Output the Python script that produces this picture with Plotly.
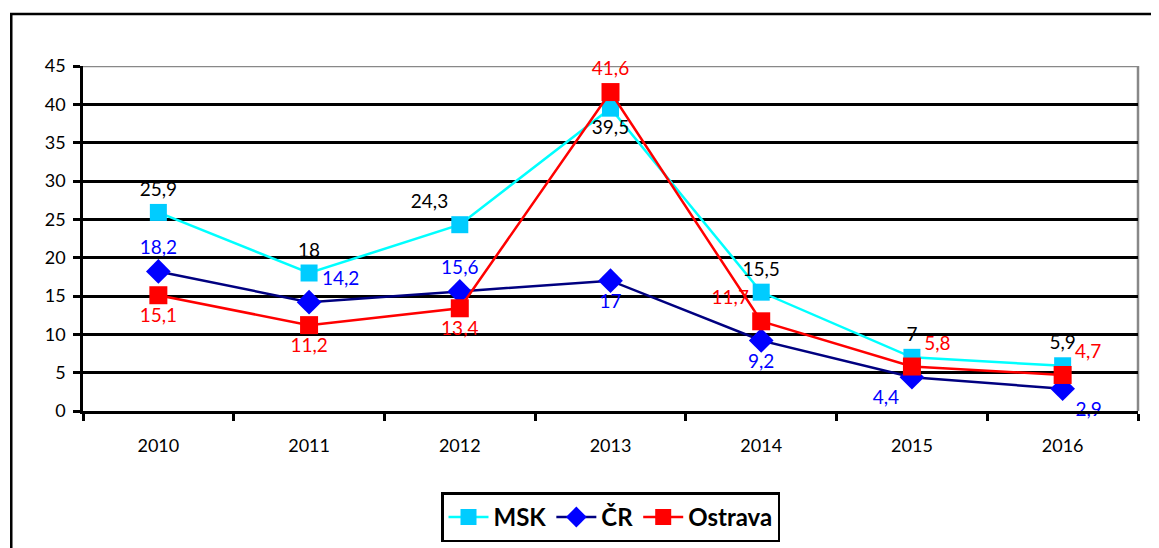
import plotly.graph_objects as go

years = ["2010", "2011", "2012", "2013", "2014", "2015", "2016"]
msk = [25.9, 18, 24.3, 39.5, 15.5, 7, 5.9]
cr = [18.2, 14.2, 15.6, 17, 9.2, 4.4, 2.9]
ostrava = [15.1, 11.2, 13.4, 41.6, 11.7, 5.8, 4.7]

msk_pos = ["top center", "top center", "top left", "bottom center", "top center", "top center", "top center"]
cr_pos = ["top center", "top right", "top center", "bottom center", "bottom center", "bottom left", "bottom right"]
ostrava_pos = ["bottom center", "bottom center", "bottom center", "top center", "top left", "top right", "top right"]


def fmt(vals):
    return [f"{v:g}".replace(".", ",") for v in vals]


FONT = "Lato, 'Open Sans', sans-serif"
LABEL_SIZE = 19

fig = go.Figure()

fig.add_trace(go.Scatter(
    x=years, y=msk, name="MSK", mode="lines+markers+text",
    line=dict(color="#00FFFF", width=2.5),
    marker=dict(symbol="square", size=17, color="#00CCFF"),
    text=fmt(msk), textposition=msk_pos, cliponaxis=False,
    textfont=dict(color="black", size=LABEL_SIZE, family=FONT),
))
fig.add_trace(go.Scatter(
    x=years, y=cr, name="ČR", mode="lines+markers+text",
    line=dict(color="#000080", width=2.5),
    marker=dict(symbol="diamond", size=19, color="#0000FF"),
    text=fmt(cr), textposition=cr_pos, cliponaxis=False,
    textfont=dict(color="#0000FF", size=LABEL_SIZE, family=FONT),
))
fig.add_trace(go.Scatter(
    x=years, y=ostrava, name="Ostrava", mode="lines+markers+text",
    line=dict(color="#FF0000", width=2.5),
    marker=dict(symbol="square", size=18, color="#FF0000"),
    text=fmt(ostrava), textposition=ostrava_pos, cliponaxis=False,
    textfont=dict(color="#FF0000", size=LABEL_SIZE, family=FONT),
))

# plot-area top line and right border in gray, chart outer frame in black
fig.add_shape(type="line", xref="paper", yref="y", x0=0, x1=1, y0=45, y1=45,
              line=dict(color="#888888", width=2.5), layer="below")
fig.add_shape(type="line", xref="paper", yref="paper", x0=1, x1=1, y0=0, y1=1,
              line=dict(color="#888888", width=2.5), layer="below")
fig.add_shape(type="rect", xref="paper", yref="paper",
              x0=-0.068, x1=1.04, y0=-0.45, y1=1.151,
              line=dict(color="black", width=2.5))

# page has an 8px body margin, so the figure is 8px smaller than the window
fig.update_layout(
    width=1151, height=540,
    margin=dict(l=75, r=21, t=58, b=137, autoexpand=False),
    paper_bgcolor="white", plot_bgcolor="white",
    font=dict(family=FONT, size=18, color="black"),
    showlegend=True,
    legend=dict(
        orientation="h", x=0.5, xanchor="center",
        yref="container", y=0.103, yanchor="top",
        bordercolor="black", borderwidth=2.5,
        font=dict(size=24, family=FONT, weight="bold"),
        itemwidth=40,
    ),
)

fig.update_xaxes(
    type="category", range=[-0.5, 6.5], automargin=False,
    showline=True, linecolor="black", linewidth=2.5,
    ticks="outside", tickson="boundaries", ticklen=7, tickwidth=2.5, tickcolor="black",
    showgrid=False, ticklabelstandoff=17,
    tickfont=dict(size=18),
)
fig.update_yaxes(
    range=[0, 45], dtick=5, automargin=False,
    showline=True, linecolor="black", linewidth=2.5,
    ticks="outside", ticklen=7, tickwidth=2.5, tickcolor="black",
    showgrid=True, gridcolor="black", gridwidth=2.5,
    zeroline=False, tickfont=dict(size=18), ticklabelstandoff=4,
)

fig.write_html("out.html")
